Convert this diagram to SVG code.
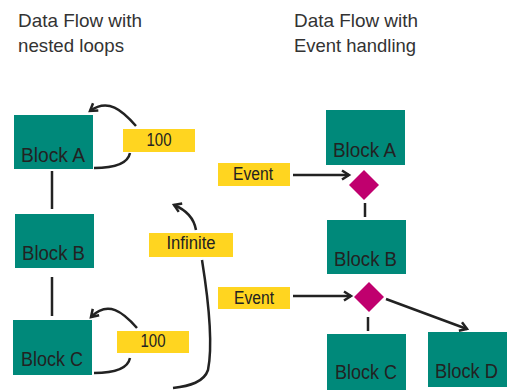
<svg xmlns="http://www.w3.org/2000/svg" width="515" height="390" viewBox="0 0 515 390">
<style>
.blk{fill:#00897A}
.lbl{fill:#FFD520}
.dia{fill:#C0006E}
.bt{font-family:"Liberation Sans",Arial,sans-serif;font-size:20.5px;fill:#222}
.lt{font-family:"Liberation Sans",Arial,sans-serif;font-size:17.5px;fill:#222}
.tt{font-family:"Liberation Sans",Arial,sans-serif;font-size:19px;fill:#333}
.ln{fill:none;stroke:#222;stroke-width:2.5}
</style>
<defs>
<marker id="ah" markerWidth="10" markerHeight="10" refX="8" refY="5" orient="auto" markerUnits="userSpaceOnUse" overflow="visible">
<path d="M1,0.5 L8,5 L1,9.5" fill="none" stroke="#222" stroke-width="2.5"/>
</marker>
</defs>
<g id="titles">
<text class="tt" x="18" y="27" textLength="124" lengthAdjust="spacingAndGlyphs">Data Flow with</text>
<text class="tt" x="18" y="52" textLength="106" lengthAdjust="spacingAndGlyphs">nested loops</text>
<text class="tt" x="294" y="27" textLength="124" lengthAdjust="spacingAndGlyphs">Data Flow with</text>
<text class="tt" x="294" y="52" textLength="122" lengthAdjust="spacingAndGlyphs">Event handling</text>
</g>
<g id="connectors">
<line class="ln" x1="52" y1="171" x2="52" y2="209"/>
<line class="ln" x1="52" y1="277" x2="52" y2="316"/>
<path class="ln" d="M136,126 C122,110 108,98 90,111" marker-end="url(#ah)"/>
<path class="ln" d="M94,168 C115,168 128,163 130,153"/>
<path class="ln" d="M137,328 C123,312 108,300 91,317" marker-end="url(#ah)"/>
<path class="ln" d="M94,373 C115,373 128,368 130,358"/>
<path class="ln" d="M196,230 C194,218 186,210 174,205" marker-end="url(#ah)"/>
<path class="ln" d="M202,260 C210,310 212,350 208,370 C204,382 190,386 173,388"/>
<line class="ln" x1="293" y1="175" x2="349" y2="175" marker-end="url(#ah)"/>
<line class="ln" x1="365" y1="203" x2="365" y2="217"/>
<line class="ln" x1="293" y1="296" x2="351" y2="296" marker-end="url(#ah)"/>
<line class="ln" x1="368" y1="317" x2="368" y2="331"/>
<line class="ln" x1="386" y1="299" x2="467" y2="329" marker-end="url(#ah)"/>
</g>
<g id="L_blockA"><rect class="blk" x="14" y="115" width="79" height="54"/><text class="bt" x="21" y="162" textLength="64" lengthAdjust="spacingAndGlyphs">Block A</text></g>
<g id="L_blockB"><rect class="blk" x="15" y="214" width="79" height="54"/><text class="bt" x="22" y="260" textLength="63" lengthAdjust="spacingAndGlyphs">Block B</text></g>
<g id="L_blockC"><rect class="blk" x="13" y="320" width="79" height="55"/><text class="bt" x="21" y="366" textLength="62" lengthAdjust="spacingAndGlyphs">Block C</text></g>
<g id="L_100a"><rect class="lbl" x="123" y="129" width="72" height="23"/><text class="lt" x="159" y="146" text-anchor="middle" textLength="25" lengthAdjust="spacingAndGlyphs">100</text></g>
<g id="L_100c"><rect class="lbl" x="117" y="331" width="72" height="22"/><text class="lt" x="153" y="347" text-anchor="middle" textLength="25" lengthAdjust="spacingAndGlyphs">100</text></g>
<g id="L_infinite"><rect class="lbl" x="149" y="233" width="84" height="24"/><text class="lt" x="191" y="249" text-anchor="middle" textLength="49" lengthAdjust="spacingAndGlyphs">Infinite</text></g>
<g id="R_event1"><rect class="lbl" x="218" y="163" width="72" height="23"/><text class="lt" x="253" y="180" text-anchor="middle" textLength="40" lengthAdjust="spacingAndGlyphs">Event</text></g>
<g id="R_event2"><rect class="lbl" x="218" y="287" width="72" height="22"/><text class="lt" x="254" y="304" text-anchor="middle" textLength="40" lengthAdjust="spacingAndGlyphs">Event</text></g>
<g id="R_blockA"><rect class="blk" x="326" y="110" width="79" height="55"/><text class="bt" x="333" y="157" textLength="63" lengthAdjust="spacingAndGlyphs">Block A</text></g>
<g id="R_diamond1"><polygon class="dia" points="364,170 379,185 364,200 349,185"/></g>
<g id="R_blockB"><rect class="blk" x="327" y="220" width="79" height="54"/><text class="bt" x="334" y="266" textLength="63" lengthAdjust="spacingAndGlyphs">Block B</text></g>
<g id="R_diamond2"><polygon class="dia" points="369,282 384,297 369,312 354,297"/></g>
<g id="R_blockC"><rect class="blk" x="327" y="334" width="79" height="56"/><text class="bt" x="335" y="379" textLength="62" lengthAdjust="spacingAndGlyphs">Block C</text></g>
<g id="R_blockD"><rect class="blk" x="428" y="332" width="79" height="55"/><text class="bt" x="435" y="378" textLength="63" lengthAdjust="spacingAndGlyphs">Block D</text></g>
</svg>
